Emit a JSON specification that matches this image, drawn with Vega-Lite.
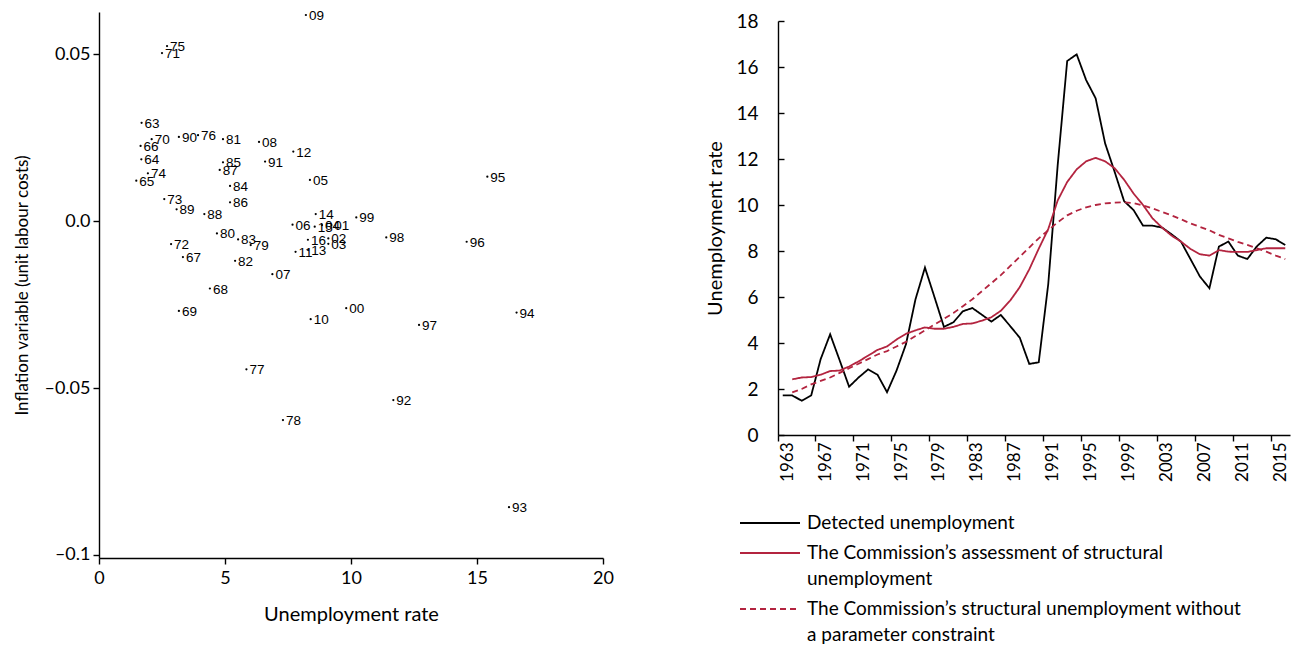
{
  "$schema": "https://vega.github.io/schema/vega-lite/v6.json",
  "padding": {"left": 13, "top": 9, "right": 5, "bottom": 0},
  "background": "white",
  "spacing": 91,
  "config": {
    "view": {"stroke": null},
    "font": "Lato",
    "axis": {"grid": false, "domainColor": "#000", "tickColor": "#000", "labelColor": "#000", "titleColor": "#000", "domainWidth": 1.4, "tickWidth": 1.4, "titleFontWeight": "normal", "labelFont": "Lato", "titleFont": "Lato", "labelFlush": false}
  },
  "datasets": {
    "scatter": [
      {"yr": "63", "u": 1.69, "inf": 0.0294},
      {"yr": "64", "u": 1.68, "inf": 0.0185},
      {"yr": "65", "u": 1.48, "inf": 0.0121},
      {"yr": "66", "u": 1.65, "inf": 0.0225},
      {"yr": "67", "u": 3.33, "inf": -0.0108},
      {"yr": "68", "u": 4.40, "inf": -0.0202},
      {"yr": "69", "u": 3.17, "inf": -0.0269},
      {"yr": "70", "u": 2.09, "inf": 0.0245},
      {"yr": "71", "u": 2.50, "inf": 0.0503},
      {"yr": "72", "u": 2.86, "inf": -0.0069},
      {"yr": "73", "u": 2.59, "inf": 0.0066},
      {"yr": "74", "u": 1.94, "inf": 0.0143},
      {"yr": "75", "u": 2.70, "inf": 0.0524},
      {"yr": "76", "u": 3.93, "inf": 0.0257},
      {"yr": "77", "u": 5.85, "inf": -0.0444},
      {"yr": "78", "u": 7.30, "inf": -0.0596},
      {"yr": "79", "u": 6.02, "inf": -0.0072},
      {"yr": "80", "u": 4.68, "inf": -0.0037},
      {"yr": "81", "u": 4.92, "inf": 0.0245},
      {"yr": "82", "u": 5.40, "inf": -0.0119},
      {"yr": "83", "u": 5.52, "inf": -0.0055},
      {"yr": "84", "u": 5.20, "inf": 0.0105},
      {"yr": "85", "u": 4.92, "inf": 0.0176},
      {"yr": "86", "u": 5.20, "inf": 0.0056},
      {"yr": "87", "u": 4.79, "inf": 0.0153},
      {"yr": "88", "u": 4.18, "inf": 0.0021},
      {"yr": "89", "u": 3.08, "inf": 0.0035},
      {"yr": "90", "u": 3.17, "inf": 0.0252},
      {"yr": "91", "u": 6.59, "inf": 0.0178},
      {"yr": "92", "u": 11.68, "inf": -0.0536},
      {"yr": "93", "u": 16.27, "inf": -0.0857},
      {"yr": "94", "u": 16.57, "inf": -0.0274},
      {"yr": "95", "u": 15.41, "inf": 0.0133},
      {"yr": "96", "u": 14.59, "inf": -0.0062},
      {"yr": "97", "u": 12.70, "inf": -0.0311},
      {"yr": "98", "u": 11.40, "inf": -0.0049},
      {"yr": "99", "u": 10.21, "inf": 0.0011},
      {"yr": "00", "u": 9.81, "inf": -0.0261},
      {"yr": "01", "u": 9.22, "inf": -0.0012},
      {"yr": "02", "u": 9.10, "inf": -0.0052},
      {"yr": "03", "u": 9.10, "inf": -0.0068},
      {"yr": "04", "u": 8.85, "inf": -0.0012},
      {"yr": "05", "u": 8.37, "inf": 0.0123},
      {"yr": "06", "u": 7.68, "inf": -0.0011},
      {"yr": "07", "u": 6.88, "inf": -0.0159},
      {"yr": "08", "u": 6.35, "inf": 0.0237},
      {"yr": "09", "u": 8.21, "inf": 0.0617},
      {"yr": "10", "u": 8.40, "inf": -0.0294},
      {"yr": "11", "u": 7.80, "inf": -0.0092},
      {"yr": "12", "u": 7.71, "inf": 0.0208},
      {"yr": "13", "u": 8.30, "inf": -0.0087},
      {"yr": "14", "u": 8.60, "inf": 0.0021},
      {"yr": "15", "u": 8.56, "inf": -0.0017},
      {"yr": "16", "u": 8.29, "inf": -0.0056}
    ],
    "lines": [
      {"year": 1963, "d": 1.72},
      {"year": 1964, "d": 1.72, "a": 2.42, "n": 1.85},
      {"year": 1965, "d": 1.49, "a": 2.50, "n": 2.0},
      {"year": 1966, "d": 1.72, "a": 2.52, "n": 2.2},
      {"year": 1967, "d": 3.3, "a": 2.62, "n": 2.35},
      {"year": 1968, "d": 4.38, "a": 2.78, "n": 2.5},
      {"year": 1969, "d": 3.25, "a": 2.8, "n": 2.7},
      {"year": 1970, "d": 2.1, "a": 2.98, "n": 2.9},
      {"year": 1971, "d": 2.5, "a": 3.2, "n": 3.1},
      {"year": 1972, "d": 2.85, "a": 3.45, "n": 3.3},
      {"year": 1973, "d": 2.62, "a": 3.7, "n": 3.5},
      {"year": 1974, "d": 1.86, "a": 3.85, "n": 3.65},
      {"year": 1975, "d": 2.8, "a": 4.15, "n": 3.85},
      {"year": 1976, "d": 3.95, "a": 4.4, "n": 4.05},
      {"year": 1977, "d": 5.9, "a": 4.55, "n": 4.3},
      {"year": 1978, "d": 7.28, "a": 4.68, "n": 4.55},
      {"year": 1979, "d": 6.0, "a": 4.62, "n": 4.8},
      {"year": 1980, "d": 4.7, "a": 4.62, "n": 5.05},
      {"year": 1981, "d": 4.9, "a": 4.7, "n": 5.3},
      {"year": 1982, "d": 5.38, "a": 4.83, "n": 5.6},
      {"year": 1983, "d": 5.52, "a": 4.85, "n": 5.9},
      {"year": 1984, "d": 5.23, "a": 4.97, "n": 6.25},
      {"year": 1985, "d": 4.93, "a": 5.12, "n": 6.6},
      {"year": 1986, "d": 5.22, "a": 5.4, "n": 6.95},
      {"year": 1987, "d": 4.73, "a": 5.85, "n": 7.35},
      {"year": 1988, "d": 4.23, "a": 6.43, "n": 7.75},
      {"year": 1989, "d": 3.09, "a": 7.2, "n": 8.15},
      {"year": 1990, "d": 3.16, "a": 8.1, "n": 8.55},
      {"year": 1991, "d": 6.55, "a": 8.95, "n": 8.9},
      {"year": 1992, "d": 11.74, "a": 10.2, "n": 9.25},
      {"year": 1993, "d": 16.26, "a": 11.0, "n": 9.55},
      {"year": 1994, "d": 16.55, "a": 11.55, "n": 9.75},
      {"year": 1995, "d": 15.43, "a": 11.9, "n": 9.9},
      {"year": 1996, "d": 14.64, "a": 12.05, "n": 10.0},
      {"year": 1997, "d": 12.68, "a": 11.9, "n": 10.07},
      {"year": 1998, "d": 11.45, "a": 11.6, "n": 10.1},
      {"year": 1999, "d": 10.17, "a": 11.1, "n": 10.12},
      {"year": 2000, "d": 9.78, "a": 10.5, "n": 10.08},
      {"year": 2001, "d": 9.1, "a": 10.0, "n": 9.98},
      {"year": 2002, "d": 9.1, "a": 9.42, "n": 9.85},
      {"year": 2003, "d": 9.02, "a": 9.02, "n": 9.7},
      {"year": 2004, "d": 8.73, "a": 8.67, "n": 9.55},
      {"year": 2005, "d": 8.41, "a": 8.41, "n": 9.38},
      {"year": 2006, "d": 7.65, "a": 8.09, "n": 9.2},
      {"year": 2007, "d": 6.89, "a": 7.86, "n": 9.05},
      {"year": 2008, "d": 6.38, "a": 7.8, "n": 8.9},
      {"year": 2009, "d": 8.19, "a": 8.04, "n": 8.7},
      {"year": 2010, "d": 8.41, "a": 7.97, "n": 8.55},
      {"year": 2011, "d": 7.8, "a": 7.96, "n": 8.4},
      {"year": 2012, "d": 7.65, "a": 7.96, "n": 8.27},
      {"year": 2013, "d": 8.2, "a": 8.04, "n": 8.12},
      {"year": 2014, "d": 8.58, "a": 8.12, "n": 7.97},
      {"year": 2015, "d": 8.51, "a": 8.12, "n": 7.8},
      {"year": 2016, "d": 8.26, "a": 8.12, "n": 7.65}
    ]
  },
  "hconcat": [
    {
      "width": 504,
      "height": 546,
      "data": {"name": "scatter"},
      "encoding": {
        "x": {"field": "u", "type": "quantitative", "scale": {"domain": [0, 20], "nice": false, "zero": false},
          "axis": {"values": [0, 5, 10, 15, 20], "title": "Unemployment rate", "labelFontSize": 18, "titleFontSize": 20, "tickSize": 6, "labelPadding": 5, "titlePadding": 17}},
        "y": {"field": "inf", "type": "quantitative", "scale": {"domain": [-0.1009, 0.0626], "nice": false, "zero": false},
          "axis": {"values": [-0.1, -0.05, 0, 0.05], "labelExpr": "datum.value == 0 ? '0.0' : datum.value == 0.05 ? '0.05' : datum.value == -0.05 ? '–0.05' : '–0.1'", "title": "Inflation variable (unit labour costs)", "labelFontSize": 18, "titleFontSize": 17, "tickSize": 6, "labelPadding": 3, "titlePadding": 12}}
      },
      "layer": [
        {"mark": {"type": "circle", "size": 5, "color": "#000", "opacity": 1}},
        {"mark": {"type": "text", "align": "left", "baseline": "middle", "dx": 3, "dy": 1, "font": "Liberation Sans", "fontSize": 13.5, "color": "#000"},
          "encoding": {"text": {"field": "yr", "type": "nominal"}}}
      ]
    },
    {
      "spacing": -1,
      "vconcat": [
        {
          "width": 512,
          "height": 1,
          "data": {"values": [{"k": 1}]},
          "mark": {"type": "point", "opacity": 0, "size": 0}
        },
        {
          "width": 512,
          "height": 414,
          "data": {"name": "lines"},
          "transform": [
            {"fold": ["d", "a", "n"], "as": ["series", "value"]},
            {"filter": "isValid(datum.value)"}
          ],
          "mark": {"type": "line", "strokeWidth": 1.8},
          "encoding": {
            "x": {"field": "year", "type": "ordinal", "scale": {"type": "band", "paddingInner": 0, "paddingOuter": 0}, "bandPosition": 0.5,
              "axis": {"values": [1963, 1967, 1971, 1975, 1979, 1983, 1987, 1991, 1995, 1999, 2003, 2007, 2011, 2015], "bandPosition": 0, "labelAngle": -90, "labelOffset": 5, "labelFontSize": 17, "tickSize": 6, "labelPadding": 1, "title": null}},
            "y": {"field": "value", "type": "quantitative", "scale": {"domain": [0, 18], "nice": false},
              "axis": {"values": [0, 2, 4, 6, 8, 10, 12, 14, 16, 18], "title": "Unemployment rate", "labelFontSize": 19, "titleFontSize": 20, "tickSize": -6, "labelPadding": 26, "titlePadding": 10}},
            "color": {"field": "series", "type": "nominal", "scale": {"domain": ["d", "a", "n"], "range": ["#000000", "#b3243f", "#b3243f"]},
              "legend": {"title": null, "orient": "none", "legendX": 640, "legendY": 500, "direction": "vertical", "symbolType": "M-3,0H3", "symbolSize": 400, "symbolOffset": 20, "symbolStrokeWidth": 1.8, "symbolFillColor": "transparent", "labelFontSize": 19, "labelFont": "Lato", "labelColor": "#000", "labelOffset": 26, "labelLimit": 600, "rowPadding": 9, "labelBaseline": "middle",
                "encode": {"labels": {"update": {"lineHeight": {"value": 26}}}},
                "labelExpr": "datum.value == 'd' ? 'Detected unemployment' : datum.value == 'a' ? ['The Commission’s assessment of structural', 'unemployment'] : ['The Commission’s structural unemployment without', 'a parameter constraint']"}},
            "strokeDash": {"field": "series", "type": "nominal", "scale": {"domain": ["d", "a", "n"], "range": [[1, 0], [1, 0], [6, 4]]},
              "legend": {"title": null, "orient": "none", "legendX": 640, "legendY": 500, "direction": "vertical", "symbolType": "M-3,0H3", "symbolSize": 400, "symbolOffset": 20, "symbolStrokeWidth": 1.8, "symbolFillColor": "transparent", "labelFontSize": 19, "labelFont": "Lato", "labelColor": "#000", "labelOffset": 26, "labelLimit": 600, "rowPadding": 9, "labelBaseline": "middle",
                "encode": {"labels": {"update": {"lineHeight": {"value": 26}}}},
                "labelExpr": "datum.value == 'd' ? 'Detected unemployment' : datum.value == 'a' ? ['The Commission’s assessment of structural', 'unemployment'] : ['The Commission’s structural unemployment without', 'a parameter constraint']"}}
          }
        }
      ]
    }
  ]
}
